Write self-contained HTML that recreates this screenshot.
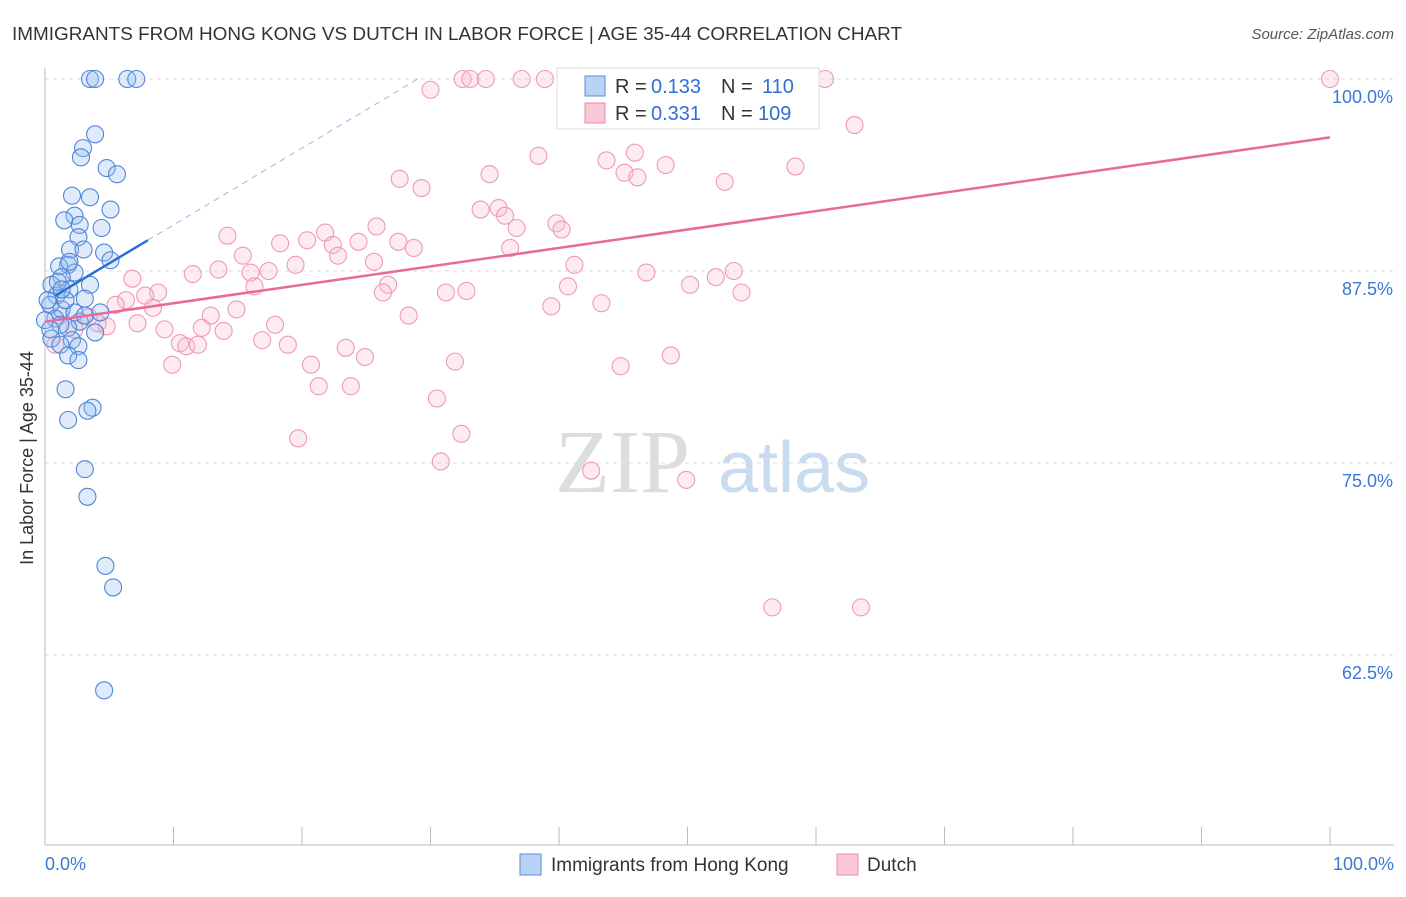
<!DOCTYPE html>
<html><head><meta charset="utf-8"><style>
body{margin:0;background:#fff;font-family:"Liberation Sans",sans-serif;}
</style></head><body>
<svg id="c" width="1406" height="892" xmlns="http://www.w3.org/2000/svg">
<text x="12" y="40" font-size="18" fill="#333" textLength="890" lengthAdjust="spacingAndGlyphs">IMMIGRANTS FROM HONG KONG VS DUTCH IN LABOR FORCE | AGE 35-44 CORRELATION CHART</text>
<text x="1394" y="39" font-size="15" fill="#555" font-style="italic" text-anchor="end">Source: ZipAtlas.com</text>
<text x="33" y="458" font-size="18" fill="#333" text-anchor="middle" transform="rotate(-90 33 458)">In Labor Force | Age 35-44</text>
<text x="555" y="492" font-size="90" fill="#ddd" font-family="Liberation Serif,serif">ZIP</text>
<text x="718" y="492" font-size="72" fill="#c9dcef">atlas</text>
<g id="grid"></g><g id="pts"></g><g id="lines"></g>
<g>
<rect x="557" y="68" width="262" height="61" fill="#fff" stroke="#ddd"/>
<rect x="585" y="76" width="20" height="20" fill="#b8d3f5" stroke="#5b8fd6"/>
<rect x="585" y="103" width="20" height="20" fill="#f8c8d8" stroke="#e88aaa"/>
<text y="93" font-size="20" fill="#333"><tspan x="615">R =</tspan><tspan x="651" fill="#2f6fd6">0.133</tspan><tspan x="721">N =</tspan><tspan x="762" fill="#2f6fd6">110</tspan></text>
<text y="120" font-size="20" fill="#333"><tspan x="615">R =</tspan><tspan x="651" fill="#2f6fd6">0.331</tspan><tspan x="721">N =</tspan><tspan x="758" fill="#2f6fd6">109</tspan></text>
</g>
<g>
<rect x="520" y="854" width="21" height="21" fill="#b8d3f5" stroke="#5b8fd6"/>
<text x="551" y="871" font-size="19" fill="#333">Immigrants from Hong Kong</text>
<rect x="837" y="854" width="21" height="21" fill="#f8c8d8" stroke="#e88aaa"/>
<text x="867" y="871" font-size="19" fill="#333">Dutch</text>
</g>
</svg>
<script>
const yTicks=[62.5,75,87.5,100];
const yTickLabels=["62.5%","75.0%","87.5%","100.0%"];
const blueX=[3.5,3.9,6.4,7.1,3.9,2.96,2.8,4.8,5.6,2.1,3.5,5.1,2.3,1.5,2.7,4.4,2.6,1.95,3.0,4.6,5.1,1.8,1.1,2.3,1.3,3.5,0.5,1.9,0.9,3.1,0.4,1.3,2.3,4.3,0.8,2.7,1.8,3.9,0.5,2.1,1.2,2.6,1.8,2.6,1.6,3.7,3.3,1.8,3.1,3.3,4.7,5.3,4.6,0.2,1.0,1.6,0,1.2,3.1,0.4,1.9,1.3];
const blueY=[100,100,100,100,96.4,95.5,94.9,94.2,93.8,92.4,92.3,91.5,91.1,90.8,90.5,90.3,89.7,88.9,88.9,88.7,88.2,87.9,87.8,87.4,87.1,86.6,86.6,86.3,85.9,85.7,85.3,85.0,84.8,84.8,84.4,84.2,83.8,83.5,83.1,83.0,82.7,82.6,82.0,81.7,79.8,78.6,78.4,77.8,74.6,72.8,68.3,66.9,60.2,85.6,86.8,85.6,84.3,84.0,84.6,83.7,88.1,86.3];
const pinkX=[32.5,33.1,34.3,37.1,38.9,51.8,59,60.7,100,30,63,38.4,43.7,45.9,48.3,45.1,46.1,58.4,52.9,34.6,27.6,29.3,33.9,35.3,35.8,36.7,39.8,40.2,25.8,21.8,14.2,18.3,20.4,22.4,24.4,27.5,28.7,36.2,22.8,15.4,25.6,19.5,13.5,16,17.4,11.5,41.2,46.8,53.6,52.2,50.2,26.7,16.3,40.7,54.2,26.3,31.2,32.8,6.8,8.8,7.8,6.3,5.5,8.4,43.3,39.4,14.9,12.9,28.3,7.2,9.3,12.2,13.9,17.9,4.8,4.1,16.9,18.9,10.5,11,11.9,23.4,24.9,48.7,9.9,20.7,31.9,44.8,21.3,23.8,30.5,32.4,19.7,30.8,42.5,49.9,56.6,63.5,0.8,1.2,2.3,3.4];
const pinkY=[100,100,100,100,100,100,100,100,100,99.3,97,95,94.7,95.2,94.4,93.9,93.6,94.3,93.3,93.8,93.5,92.9,91.5,91.6,91.1,90.3,90.6,90.2,90.4,90,89.8,89.3,89.5,89.2,89.4,89.4,89,89,88.5,88.5,88.1,87.9,87.6,87.4,87.5,87.3,87.9,87.4,87.5,87.1,86.6,86.6,86.5,86.5,86.1,86.1,86.1,86.2,87,86.1,85.9,85.6,85.3,85.1,85.4,85.2,85.0,84.6,84.6,84.1,83.7,83.8,83.6,84,83.9,84.1,83,82.7,82.8,82.6,82.7,82.5,81.9,82,81.4,81.4,81.6,81.3,80,80,79.2,76.9,76.6,75.1,74.5,73.9,65.6,65.6,82.7,84.6,83.7,84.5];
const blueTrend=[85.5,0.5];
const pinkTrend=[84.2,0.12];
const X0=45,X1=1330,Y100=79,PXPER=15.36;
const xs=v=>X0+(X1-X0)*v/100, ys=v=>Y100+(100-v)*PXPER;
const NS="http://www.w3.org/2000/svg";
function mk(t,a,p){const e=document.createElementNS(NS,t);for(const k in a)e.setAttribute(k,a[k]);p.appendChild(e);return e;}
const g=document.getElementById('grid');
yTicks.forEach((t,i)=>{
 const l=mk('line',{x1:45,x2:1394,y1:ys(t),y2:ys(t),stroke:'#ddd','stroke-dasharray':'4 4'},g);
 
 
 const tx=mk('text',{x:1393,y:ys(t)+24,'font-size':18,fill:'#3a78d4','text-anchor':'end'},g);
 tx.textContent=yTickLabels[i];
 
 
});
mk('line',{x1:45,x2:45,y1:68,y2:845,stroke:'#bbb'},g);
mk('line',{x1:45,x2:1394,y1:845,y2:845,stroke:'#bbb'},g);
for(let i=0;i<=10;i++){const x=xs(i*10);mk('line',{x1:x,x2:x,y1:827,y2:845,stroke:'#bbb'},g);}
const x0=mk('text',{x:45,y:870,'font-size':18,fill:'#3a78d4'},g);x0.textContent='0.0%';


const x1=mk('text',{x:1394,y:870,'font-size':18,fill:'#3a78d4','text-anchor':'end'},g);x1.textContent='100.0%';


const P=document.getElementById('pts');
pinkX.forEach((v,i)=>{const c=mk('circle',{cx:xs(v),cy:ys(pinkY[i]),r:8.5,fill:'rgba(248,190,210,0.3)',stroke:'#ee9ab5','stroke-width':1.1},P);
 
 });
blueX.forEach((v,i)=>{const c=mk('circle',{cx:xs(v),cy:ys(blueY[i]),r:8.5,fill:'rgba(150,190,240,0.3)',stroke:'#4f86d8','stroke-width':1.1},P);
 
 });
const L=document.getElementById('lines');
const bt=x=>blueTrend[0]+blueTrend[1]*x, pt=x=>pinkTrend[0]+pinkTrend[1]*x;
const b1=mk('line',{x1:xs(0.8),y1:ys(bt(0.8)),x2:xs(8),y2:ys(bt(8)),stroke:'#2a6fd8','stroke-width':2.5},L);


const b2=mk('line',{x1:xs(8),y1:ys(bt(8)),x2:xs(29),y2:ys(bt(29)),stroke:'#9bb8e6','stroke-width':1,'stroke-dasharray':'6 5'},L);


const p1=mk('line',{x1:xs(0),y1:ys(pt(0)),x2:xs(100),y2:ys(pt(100)),stroke:'#e86a98','stroke-width':2.5},L);


</script>
</body></html>
